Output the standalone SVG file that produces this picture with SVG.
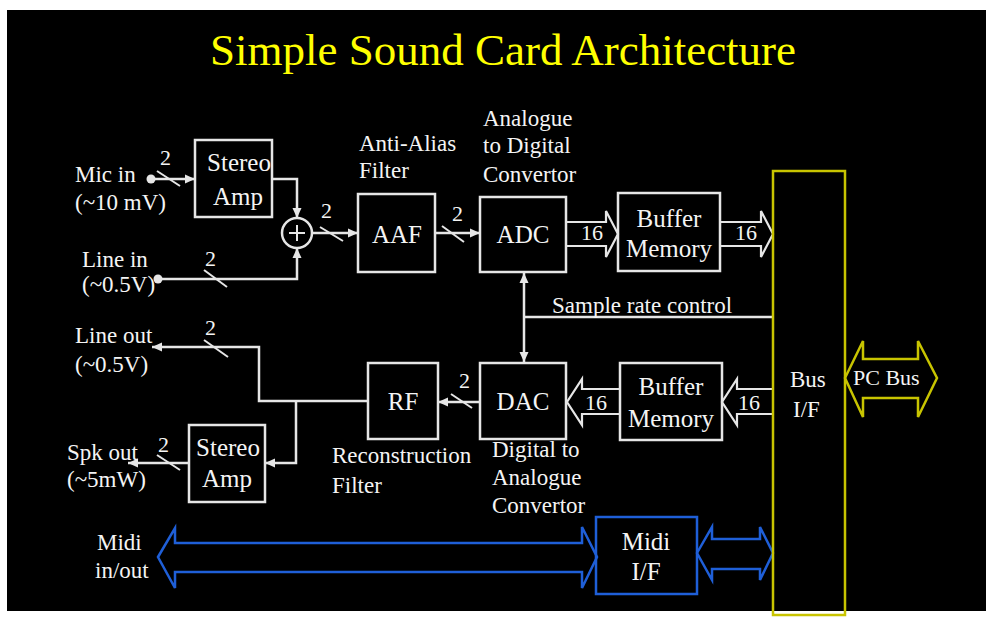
<svg xmlns="http://www.w3.org/2000/svg" width="986" height="619" viewBox="0 0 986 619">
<defs>
<style>
.bgk{fill:#000}
.box{fill:none;stroke:#e6e6e6;stroke-width:2.5}
.ln{fill:none;stroke:#e6e6e6;stroke-width:2.5}
.sl{fill:none;stroke:#e6e6e6;stroke-width:2}
.big{fill:none;stroke:#e6e6e6;stroke-width:2.2;stroke-linejoin:miter}
.yel{fill:none;stroke:#c8c400;stroke-width:2.5}
.blu{fill:none;stroke:#1f5fd8;stroke-width:2.5}
.lbl{font-family:'Liberation Serif',serif !important;font-size:23px;fill:#f4f4f4}
.blbl{font-family:'Liberation Serif',serif !important;font-size:25px;text-anchor:middle;fill:#f4f4f4}
.num{font-family:'Liberation Serif',serif !important;font-size:22px;fill:#f4f4f4}
.ttl{font-family:'Liberation Serif',serif !important;font-size:45px;fill:#ffff00;text-anchor:middle}
</style>
<marker id="ah" viewBox="0 0 10 10" refX="10" refY="5" markerUnits="userSpaceOnUse" markerWidth="10" markerHeight="10" orient="auto">
<path d="M0,0.5 L10,5 L0,9.5 Z" fill="#e6e6e6"/>
</marker>
</defs>
<rect x="0" y="0" width="986" height="619" fill="#fff"/>
<rect class="bgk" x="7" y="10" width="979" height="601"/>
<text class="ttl" x="503" y="65" style="font-family:'Liberation Serif',serif">Simple Sound Card Architecture</text>

<g id="connectors">
<circle cx="151" cy="179" r="4.5" fill="#e6e6e6"/>
<line class="ln" x1="151" y1="179" x2="195" y2="179" marker-end="url(#ah)"/>
<line class="sl" x1="157" y1="171" x2="180" y2="186"/>
<text class="num" x="160" y="165" style="font-family:'Liberation Serif',serif">2</text>
<polyline class="ln" points="272,179 297,179 297,218" marker-end="url(#ah)"/>
<circle cx="158" cy="279" r="4.5" fill="#e6e6e6"/>
<polyline class="ln" points="158,279 297,279 297,248" marker-end="url(#ah)"/>
<line class="sl" x1="204" y1="270" x2="227" y2="287"/>
<text class="num" x="205" y="266" style="font-family:'Liberation Serif',serif">2</text>
<line class="ln" x1="312" y1="233" x2="358" y2="233" marker-end="url(#ah)"/>
<line class="sl" x1="320" y1="227" x2="343" y2="241"/>
<text class="num" x="321" y="218" style="font-family:'Liberation Serif',serif">2</text>
<line class="ln" x1="435" y1="233" x2="480" y2="233" marker-end="url(#ah)"/>
<line class="sl" x1="442" y1="226" x2="464" y2="242"/>
<text class="num" x="452" y="221" style="font-family:'Liberation Serif',serif">2</text>
<polyline class="big" points="566,222 606,222 606,211 618,234 606,257 606,246 566,246"/>
<text class="num" x="581" y="240" style="font-family:'Liberation Serif',serif">16</text>
<polyline class="big" points="720,222 761,222 761,211 773,234 761,257 761,246 720,246"/>
<text class="num" x="735" y="240" style="font-family:'Liberation Serif',serif">16</text>
<polyline class="ln" points="773,317 524,317"/>
<line class="ln" x1="524" y1="317" x2="524" y2="273" marker-end="url(#ah)"/>
<line class="ln" x1="524" y1="317" x2="524" y2="362" marker-end="url(#ah)"/>
<text class="lbl" x="552" y="313" style="font-family:'Liberation Serif',serif">Sample rate control</text>
<polyline class="big" points="773,389 737,389 737,379 722,402 737,425 737,414 773,414"/>
<text class="num" x="738" y="410" style="font-family:'Liberation Serif',serif">16</text>
<polyline class="big" points="620,389 582,389 582,379 567,402 582,425 582,414 620,414"/>
<text class="num" x="585" y="410" style="font-family:'Liberation Serif',serif">16</text>
<line class="ln" x1="480" y1="402" x2="438" y2="402" marker-end="url(#ah)"/>
<line class="sl" x1="451" y1="394" x2="472" y2="408"/>
<text class="num" x="459" y="388" style="font-family:'Liberation Serif',serif">2</text>
<polyline class="ln" points="368,401 259,401 259,347 152,347" marker-end="url(#ah)"/>
<line class="sl" x1="204" y1="340" x2="228" y2="357"/>
<text class="num" x="205" y="335" style="font-family:'Liberation Serif',serif">2</text>
<polyline class="ln" points="296,401 296,463 265,463" marker-end="url(#ah)"/>
<line class="ln" x1="189" y1="463" x2="128" y2="463" marker-end="url(#ah)"/>
<line class="sl" x1="157" y1="455" x2="180" y2="470"/>
<text class="num" x="158" y="452" style="font-family:'Liberation Serif',serif">2</text>
<polygon class="yel" points="845,378 863,341 863,359 918,359 918,341 937,378 918,417 918,398 863,398 863,417"/>
<polygon class="blu" points="158,557 175,528 175,543 582,543 582,527 597,557 582,588 582,572 175,572 175,588"/>
<polygon class="blu" points="697,553 712,527 712,539 760,539 760,527 773,553 760,580 760,569 712,569 712,580"/>
</g>

<g id="mic-in"><text class="lbl" x="75" y="182" style="font-family:'Liberation Serif',serif">Mic in</text><text class="lbl" x="75" y="210" style="font-family:'Liberation Serif',serif">(~10 mV)</text></g>
<g id="line-in"><text class="lbl" x="82" y="267" style="font-family:'Liberation Serif',serif">Line in</text><text class="lbl" x="82" y="292" style="font-family:'Liberation Serif',serif">(~0.5V)</text></g>
<g id="stereo-amp-in"><rect class="box" x="195" y="140" width="77" height="77"/><text class="blbl" x="239" y="171" style="font-family:'Liberation Serif',serif">Stereo</text><text class="blbl" x="238" y="205" style="font-family:'Liberation Serif',serif">Amp</text></g>
<g id="sum"><circle class="ln" cx="297" cy="233" r="15"/><line class="sl" x1="289" y1="233" x2="305" y2="233"/><line class="sl" x1="297" y1="225" x2="297" y2="241"/></g>
<g id="aaf"><rect class="box" x="358" y="194" width="77" height="78"/><text class="blbl" x="397" y="243" style="font-family:'Liberation Serif',serif">AAF</text><text class="lbl" x="359" y="151" style="font-family:'Liberation Serif',serif">Anti-Alias</text><text class="lbl" x="359" y="178" style="font-family:'Liberation Serif',serif">Filter</text></g>
<g id="adc"><rect class="box" x="480" y="197" width="86" height="75"/><text class="blbl" x="523" y="243" style="font-family:'Liberation Serif',serif">ADC</text><text class="lbl" x="483" y="126" style="font-family:'Liberation Serif',serif">Analogue</text><text class="lbl" x="483" y="153" style="font-family:'Liberation Serif',serif">to Digital</text><text class="lbl" x="483" y="182" style="font-family:'Liberation Serif',serif">Convertor</text></g>
<g id="buffer-in"><rect class="box" x="618" y="193" width="102" height="78"/><text class="blbl" x="669" y="227" style="font-family:'Liberation Serif',serif">Buffer</text><text class="blbl" x="669" y="257" style="font-family:'Liberation Serif',serif">Memory</text></g>
<g id="bus-if"><rect class="yel" x="773" y="171" width="72" height="444"/><text class="lbl" x="790" y="387" style="font-family:'Liberation Serif',serif">Bus</text><text class="lbl" x="793" y="417" style="font-family:'Liberation Serif',serif">I/F</text></g>
<g id="pc-bus"><text class="num" x="853" y="385" style="font-family:'Liberation Serif',serif">PC Bus</text></g>
<g id="dac"><rect class="box" x="480" y="363" width="86" height="76"/><text class="blbl" x="523" y="410" style="font-family:'Liberation Serif',serif">DAC</text><text class="lbl" x="492" y="457" style="font-family:'Liberation Serif',serif">Digital to</text><text class="lbl" x="492" y="485" style="font-family:'Liberation Serif',serif">Analogue</text><text class="lbl" x="492" y="513" style="font-family:'Liberation Serif',serif">Convertor</text></g>
<g id="buffer-out"><rect class="box" x="620" y="363" width="102" height="77"/><text class="blbl" x="671" y="395" style="font-family:'Liberation Serif',serif">Buffer</text><text class="blbl" x="671" y="427" style="font-family:'Liberation Serif',serif">Memory</text></g>
<g id="rf"><rect class="box" x="368" y="363" width="70" height="76"/><text class="blbl" x="403" y="410" style="font-family:'Liberation Serif',serif">RF</text><text class="lbl" x="332" y="463" style="font-family:'Liberation Serif',serif">Reconstruction</text><text class="lbl" x="332" y="493" style="font-family:'Liberation Serif',serif">Filter</text></g>
<g id="line-out"><text class="lbl" x="75" y="343" style="font-family:'Liberation Serif',serif">Line out</text><text class="lbl" x="75" y="372" style="font-family:'Liberation Serif',serif">(~0.5V)</text></g>
<g id="stereo-amp-out"><rect class="box" x="189" y="425" width="76" height="77"/><text class="blbl" x="228" y="456" style="font-family:'Liberation Serif',serif">Stereo</text><text class="blbl" x="227" y="487" style="font-family:'Liberation Serif',serif">Amp</text></g>
<g id="spk-out"><text class="lbl" x="67" y="460" style="font-family:'Liberation Serif',serif">Spk out</text><text class="lbl" x="67" y="487" style="font-family:'Liberation Serif',serif">(~5mW)</text></g>
<g id="midi-io"><text class="lbl" x="97" y="550" style="font-family:'Liberation Serif',serif">Midi</text><text class="lbl" x="95" y="578" style="font-family:'Liberation Serif',serif">in/out</text></g>
<g id="midi-if"><rect class="blu" x="596" y="517" width="101" height="77"/><text class="blbl" x="646" y="550" style="font-family:'Liberation Serif',serif">Midi</text><text class="blbl" x="646" y="580" style="font-family:'Liberation Serif',serif">I/F</text></g>
</svg>
